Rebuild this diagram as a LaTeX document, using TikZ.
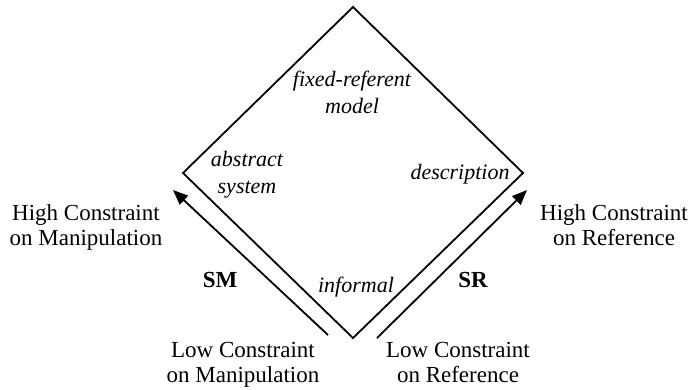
\documentclass[tikz,border=0pt]{standalone}
\usepackage{fontspec}
\setmainfont{Liberation Serif}
\usetikzlibrary{arrows.meta}

\tikzset{
  edge/.style={line width=1.8pt, line join=miter},
  axisarrow/.style={line width=1.8pt, -{Triangle[length=15pt,width=12pt]}},
  caption/.style={font=\fontsize{23}{25}\selectfont, align=center, inner sep=0pt, anchor=base},
  region/.style={font=\fontsize{22}{27}\selectfont\itshape, align=center, inner sep=0pt, anchor=base},
  axisname/.style={font=\fontsize{23}{25}\selectfont\bfseries, inner sep=0pt, anchor=base}
}

\begin{document}
\begin{tikzpicture}[x=1pt, y=-1pt]
  \useasboundingbox (0,0) rectangle (690,389);

  % corners of the diamond
  \coordinate (top) at (353,7);
  \coordinate (left) at (183,173);
  \coordinate (right) at (523,173);
  \coordinate (bottom) at (353,338);
  \draw[edge] (top) -- (right) -- (bottom) -- (left) -- cycle;

  % the two axes beside the lower edges
  \coordinate (smstart) at (328,335);
  \coordinate (smend) at (173,190);
  \coordinate (srstart) at (377,338);
  \coordinate (srend) at (527,190);
  \draw[axisarrow] (smstart) -- (smend);
  \draw[axisarrow] (srstart) -- (srend);

  % region labels (multi-line nodes sit on the baseline of their last line)
  \node[region] (fixed) at (352,113) {fixed-referent\\model};
  \node[region] (abstract) at (247,193) {abstract\\system};
  \node[region] (descr) at (460,179) {description};
  \node[region] (informal) at (356,292) {informal};

  % axis names
  \node[axisname] (sm) at (220,287) {SM};
  \node[axisname] (sr) at (473,287) {SR};

  % ends of the axes
  \node[caption] (highm) at (86,245) {High Constraint\\on Manipulation};
  \node[caption] (highr) at (614,245) {High Constraint\\on Reference};
  \node[caption] (lowm) at (243,382) {Low Constraint\\on Manipulation};
  \node[caption] (lowr) at (458,382) {Low Constraint\\on Reference};
\end{tikzpicture}
\end{document}
